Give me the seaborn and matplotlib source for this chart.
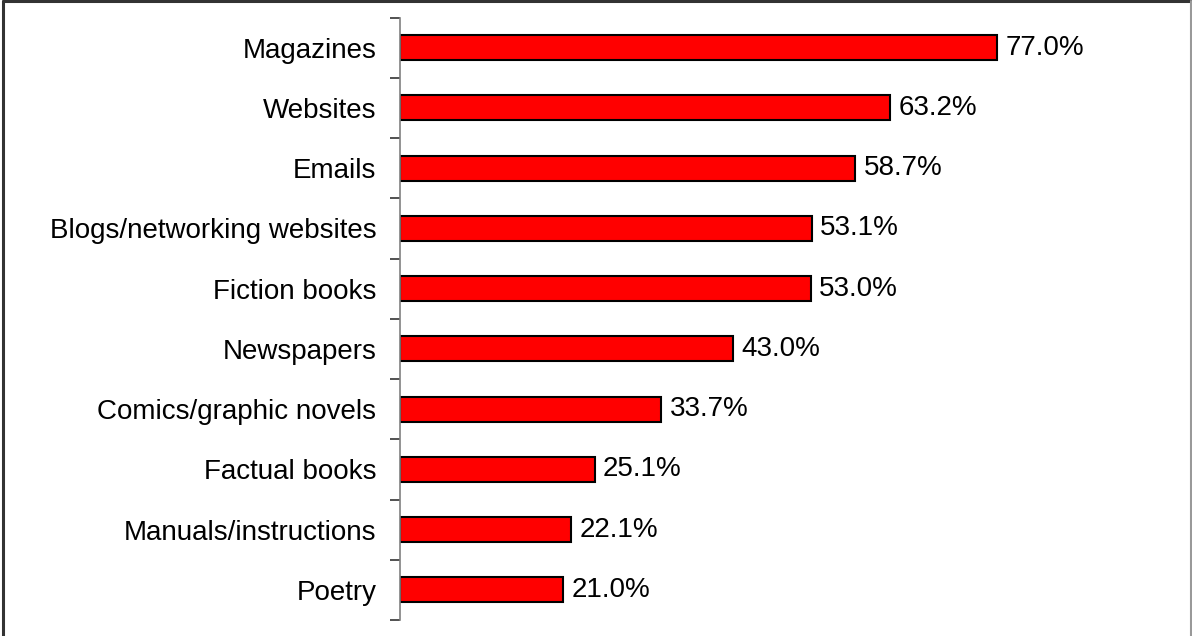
import matplotlib
matplotlib.use("Agg")
import matplotlib.pyplot as plt
from matplotlib.lines import Line2D
import numpy as np
import pandas as pd
import seaborn as sns

categories = [
    "Magazines", "Websites", "Emails", "Blogs/networking websites",
    "Fiction books", "Newspapers", "Comics/graphic novels",
    "Factual books", "Manuals/instructions", "Poetry",
]
values = [77.0, 63.2, 58.7, 53.1, 53.0, 43.0, 33.7, 25.1, 22.1, 21.0]

sns.set_theme(style="white")
plt.rcParams["font.family"] = ["Liberation Sans", "DejaVu Sans"]

W, H = 1192, 636
fig = plt.figure(figsize=(W / 100, H / 100), dpi=100)
ax = fig.add_axes([400 / W, 1 - 620 / H, 775 / W, (620 - 17.5) / H])

df = pd.DataFrame({"category": categories, "value": values})
sns.barplot(data=df, x="value", y="category", orient="h", ax=ax,
            color="#ff0000", saturation=1, width=0.415,
            edgecolor="black", linewidth=1.5)

ax.set_xlim(0, 100)
ax.set_ylim(len(categories) - 0.5, -0.5)
ax.set_xlabel("")
ax.set_ylabel("")
ax.set_xticks([])

for side in ["top", "right", "bottom"]:
    ax.spines[side].set_visible(False)
ax.spines["left"].set_color("#808080")
ax.spines["left"].set_linewidth(1.2)

# category labels at bar centres, tick marks at category boundaries
ax.set_yticks(np.arange(len(categories)))
ax.set_yticklabels(categories, fontsize=20, color="black")
ax.tick_params(axis="y", which="major", length=0, pad=17)
ax.set_yticks(np.arange(len(categories) + 1) - 0.5, minor=True)
ax.tick_params(axis="y", which="minor", left=True, length=7.5,
               width=1.2, color="#333333")

for i, v in enumerate(values):
    ax.text(v + 1.1, i, f"{v:.1f}%", va="center", ha="left",
            fontsize=20, color="black")

# outer frame
frame_kw = dict(color="#333333", linewidth=2.2, transform=fig.transFigure)
fig.add_artist(Line2D([3 / W, 3 / W], [0, 1 - 1 / H], **frame_kw))
fig.add_artist(Line2D([3 / W, 1191 / W], [1 - 1 / H, 1 - 1 / H], **frame_kw))
fig.add_artist(Line2D([1191 / W, 1191 / W], [0, 1 - 1 / H],
                      color="#999999", linewidth=1.5, transform=fig.transFigure))

fig.savefig("out.png", dpi=100, facecolor="white")
